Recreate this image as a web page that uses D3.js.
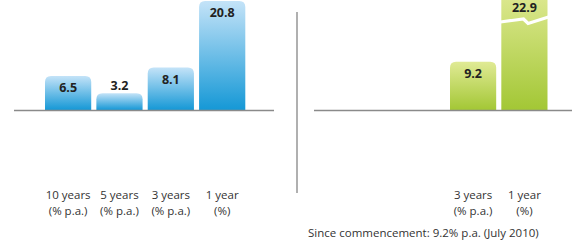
<!DOCTYPE html>
<html>
<head>
<meta charset="utf-8">
<script src="https://cdn.jsdelivr.net/npm/d3@7"></script>
<style>
  body { margin: 0; background: #fff; }
  svg { display: block; font-family: "Open Sans", sans-serif; }
</style>
</head>
<body>
<svg id="chart" width="582" height="243"></svg>
<script>
// Data
var leftCats = ["10 years", "5 years", "3 years", "1 year"];
var leftUnits = ["(% p.a.)", "(% p.a.)", "(% p.a.)", "(%)"];
var leftValues = [6.5, 3.2, 8.1, 20.8];

var rightCats = ["3 years", "1 year"];
var rightUnits = ["(% p.a.)", "(%)"];
var rightValues = [9.2, 22.9];

var footnote = "Since commencement: 9.2% p.a. (July 2010)";

var svg = d3.select("#chart");
var baseY = 110;

// shared y scale; anything above the top gets a broken bar
var yMax = 21;
var yScale = d3.scaleLinear().domain([0, yMax]).range([baseY, 0]);

// Gradients
var defs = svg.append("defs");
function addGrad(id, top, bottom) {
  var g = defs.append("linearGradient").attr("id", id)
    .attr("x1", 0).attr("y1", 0).attr("x2", 0).attr("y2", 1);
  g.append("stop").attr("offset", "0%").attr("stop-color", top);
  g.append("stop").attr("offset", "100%").attr("stop-color", bottom);
}
addGrad("gradBlue", "#c4e3f8", "#1598d6");
addGrad("gradGreen", "#e0ea95", "#a3c735");

// rounded top bar path
function barPath(x, y, w, h, r) {
  return "M" + x + "," + (y + h) +
    "V" + (y + r) + "Q" + x + "," + y + " " + (x + r) + "," + y +
    "H" + (x + w - r) + "Q" + (x + w) + "," + y + " " + (x + w) + "," + (y + r) +
    "V" + (y + h) + "Z";
}

function drawPanel(opts) {
  var g = svg.append("g");
  var xScale = d3.scaleBand()
    .domain(opts.cats)
    .range(opts.barRange)
    .paddingInner(0.1)
    .paddingOuter(0);
  var bw = xScale.bandwidth();

  opts.values.forEach(function(v, i) {
    var x = xScale(opts.cats[i]);
    var broken = v > yMax;
    var top = broken ? -12 : yScale(v);
    var h = baseY - top;
    g.append("path")
      .attr("d", barPath(x, top, bw, h, 6))
      .attr("fill", "url(#" + opts.grad + ")");

    if (broken) {
      // break marker
      var by = 22;
      g.append("path")
        .attr("d", "M" + (x - 1) + "," + by +
          "L" + (x + bw * 0.48) + "," + (by - 3) +
          "L" + (x + bw * 0.58) + "," + (by + 1.5) +
          "L" + (x + bw + 1) + "," + (by - 5))
        .attr("fill", "none")
        .attr("stroke", "#fff")
        .attr("stroke-width", 3.2);
    }

    var small = h < 25;
    g.append("text")
      .attr("x", x + bw / 2)
      .attr("y", broken ? 12 : (small ? top - 3 : top + 16))
      .attr("text-anchor", "middle")
      .attr("font-size", 12.5)
      .attr("font-weight", 700)
      .attr("fill", "#222")
      .text(d3.format(".1f")(v));

    var cx = x + bw / 2;
    g.append("text")
      .attr("x", cx).attr("y", 199)
      .attr("text-anchor", "middle")
      .attr("font-size", 11.5)
      .attr("fill", "#333")
      .text(opts.cats[i]);
    g.append("text")
      .attr("x", cx).attr("y", 215)
      .attr("text-anchor", "middle")
      .attr("font-size", 11.5)
      .attr("fill", "#333")
      .text(opts.units[i]);
  });

  // baseline
  g.append("line")
    .attr("x1", opts.axisRange[0]).attr("x2", opts.axisRange[1])
    .attr("y1", baseY + 0.5).attr("y2", baseY + 0.5)
    .attr("stroke", "#8a8a8a")
    .attr("stroke-width", 1.5);
}

drawPanel({
  cats: leftCats, units: leftUnits, values: leftValues,
  barRange: [45, 245.3], axisRange: [14, 274], grad: "gradBlue"
});
drawPanel({
  cats: rightCats, units: rightUnits, values: rightValues,
  barRange: [450, 547.5], axisRange: [314, 572], grad: "gradGreen"
});

// divider
svg.append("line")
  .attr("x1", 297).attr("x2", 297)
  .attr("y1", 12).attr("y2", 193)
  .attr("stroke", "#b0b0b0")
  .attr("stroke-width", 2);

// footnote
svg.append("text")
  .attr("x", 308).attr("y", 237)
  .attr("font-size", 11.5)
  .attr("fill", "#333")
  .text(footnote);
</script>
</body>
</html>
